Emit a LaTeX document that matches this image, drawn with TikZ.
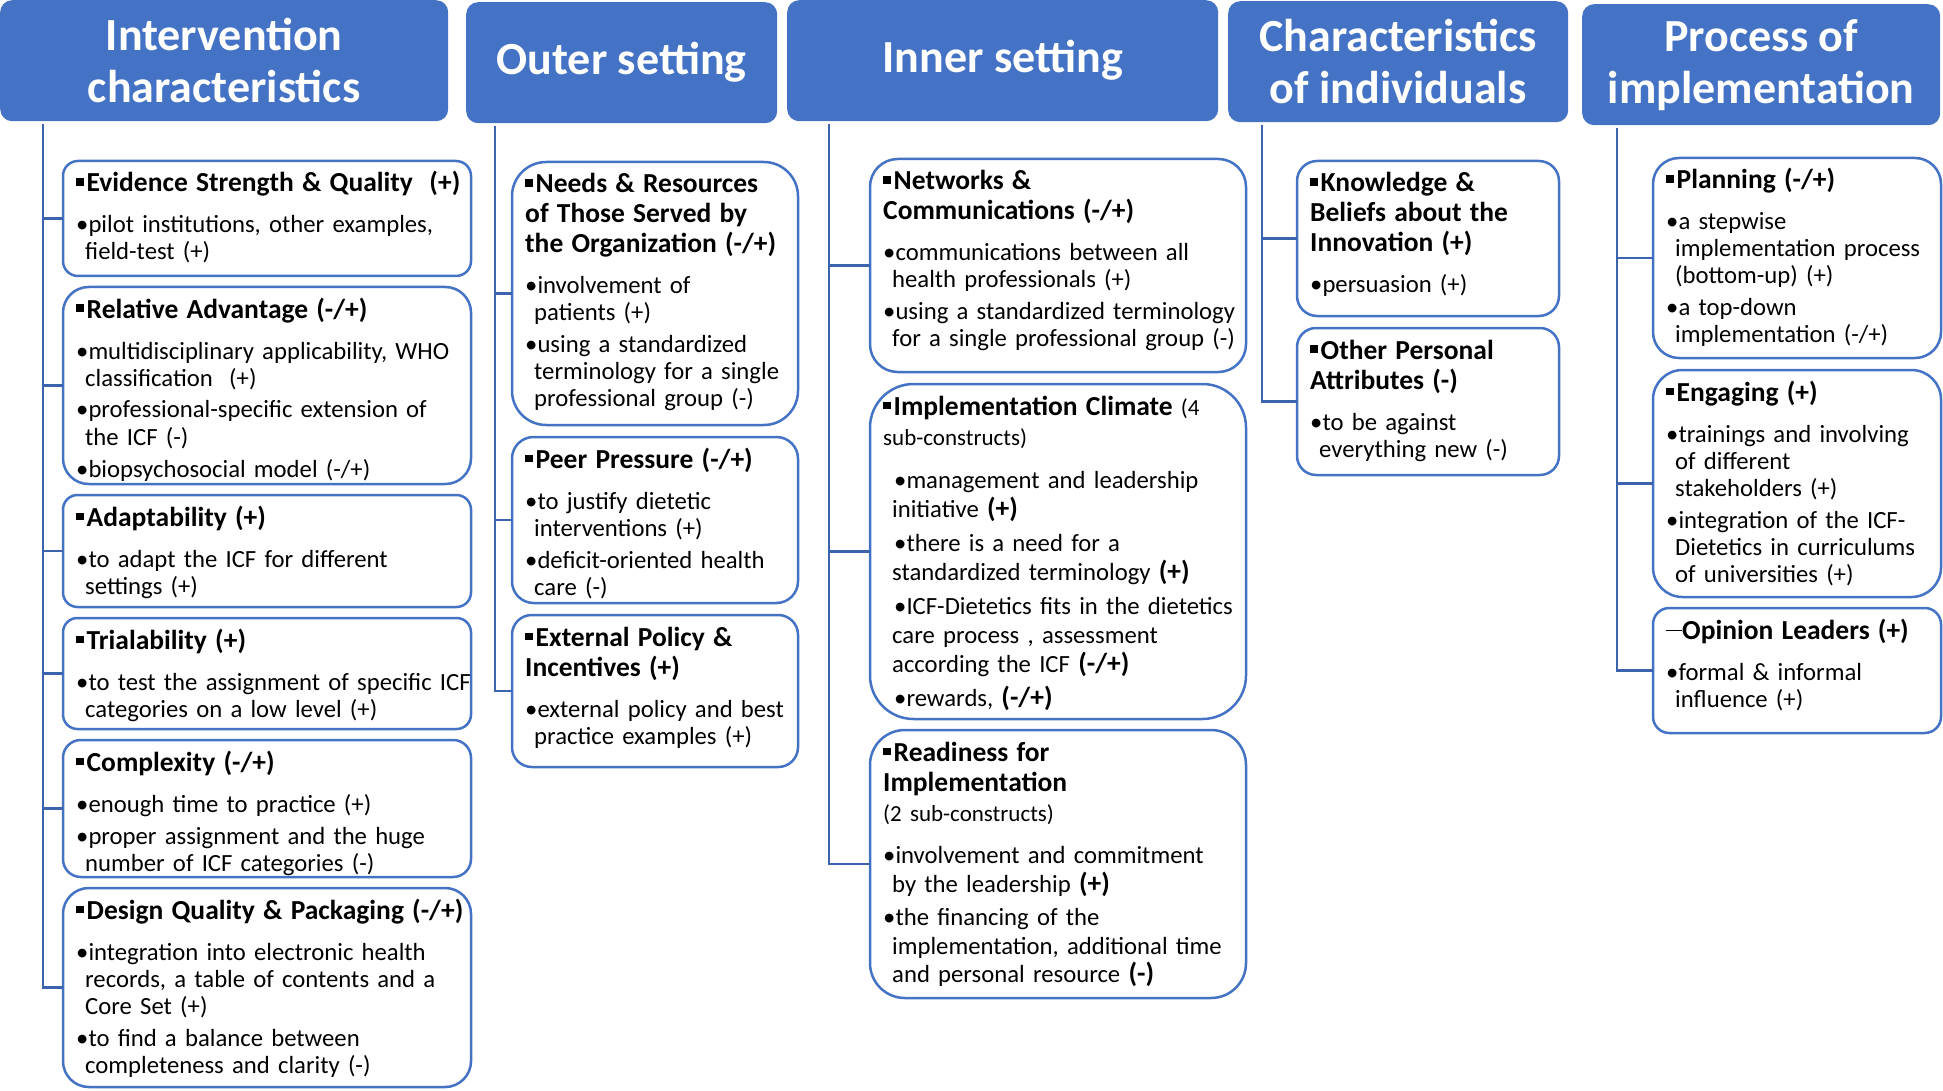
\documentclass[tikz,border=0pt]{standalone}
\usepackage{fontspec}
\setmainfont{Carlito}

\definecolor{cfirblue}{HTML}{4472C4}
\definecolor{cfirline}{HTML}{3C64AE}

\newcommand\headfont{\fontsize{27.5}{30}\selectfont\bfseries}
\newcommand\sqm{\rule[6pt]{7.5pt}{7.5pt}\hspace{3pt}}
\newcommand\dsh{\rule[8pt]{16pt}{1.2pt}}
\newcommand\hd[2][\sqm]{{\headfont#1#2\par}\vspace{9pt}}
\newcommand\bl[2][0pt]{\par\vspace{5pt}\hangindent=9pt\hangafter=1\hspace*{#1}\textbullet#2\par}
\newcommand\bp[1]{{\headfont#1}}
\newcommand\subc[1]{{\mdseries\fontsize{23}{27}\selectfont#1}}

% box with its text: name, x, y, width, height, text
\newcommand\cfirbox[6]{%
  \pgfmathsetmacro\boxr{0.13*min(#4,#5)}
  \node[item, rounded corners=\boxr pt, minimum width=#4, minimum height=#5] (#1) at (#2,#3) {};
  \node[txt] (#1-t) at ([shift={(13,31)}]#1.north west) {#6};
}

\begin{document}
\begin{tikzpicture}[x=1pt,y=-1pt,
    hdr/.style={fill=cfirblue, rounded corners=12pt, anchor=north west, inner sep=0pt,
      text=white, align=center, font=\fontsize{46}{52}\selectfont\bfseries, minimum height=121},
    item/.style={draw=cfirblue, line width=2.5pt, fill=white, anchor=north west, inner sep=0pt, outer sep=0pt},
    txt/.style={anchor=base west, inner sep=0pt, text width=520pt, align=left,
      font=\fontsize{24.7}{27}\selectfont},
    trunk/.style={draw=cfirline, line width=2.5pt}]
  \useasboundingbox (0,0) rectangle (1943,1091);

  % domain headers
  \node[hdr, minimum width=448] (h1) at (0,0) {Intervention\\characteristics};
  \node[hdr, minimum width=311] (h2) at (466,2) {Outer setting};
  \node[hdr, minimum width=431] (h3) at (787,0) {Inner setting};
  \node[hdr, minimum width=340] (h4) at (1228,1) {Characteristics\\of individuals};
  \node[hdr, minimum width=358] (h5) at (1582,4) {Process of\\implementation};

  % intervention characteristics
  \cfirbox{ev}{63}{161}{408}{115}{\hd{Evidence Strength \& Quality\ \ (+)}
    \bl{pilot institutions, other examples,\newline field-test (+)}}
  \cfirbox{ra}{63}{287}{408}{197}{\hd{Relative Advantage (-/+)}
    \bl{multidisciplinary applicability, WHO\newline classification\ \ (+)}
    \bl{professional-specific extension of\newline the ICF (-)}
    \bl{biopsychosocial model (-/+)}}
  \cfirbox{ad}{63}{495}{408}{112}{\hd{Adaptability (+)}
    \bl{to adapt the ICF for different\newline settings (+)}}
  \cfirbox{tr}{63}{618}{408}{111}{\hd{Trialability (+)}
    \bl{to test the assignment of specific ICF\newline categories on a low level (+)}}
  \cfirbox{co}{63}{740}{408}{137}{\hd{Complexity (-/+)}
    \bl{enough time to practice (+)}
    \bl{proper assignment and the huge\newline number of ICF categories (-)}}
  \cfirbox{de}{63}{888}{408}{199}{\hd{Design Quality \& Packaging (-/+)}
    \bl{integration into electronic health\newline records, a table of contents and a\newline Core Set (+)}
    \bl{to find a balance between\newline completeness and clarity (-)}}

  % outer setting
  \cfirbox{ne}{512}{162}{286}{263}{\hd{Needs \& Resources\newline of Those Served by\newline the Organization (-/+)}
    \bl{involvement of\newline patients (+)}
    \bl{using a standardized\newline terminology for a single\newline professional group (-)}}
  \cfirbox{pe}{512}{437}{286}{166}{\hd{Peer Pressure (-/+)}
    \bl{to justify dietetic\newline interventions (+)}
    \bl{deficit-oriented health\newline care (-)}}
  \cfirbox{ex}{512}{615}{286}{152}{\hd{External Policy \&\newline Incentives (+)}
    \bl{external policy and best\newline practice examples (+)}}

  % inner setting
  \cfirbox{nw}{870}{159}{376}{213}{\hd{Networks \&\newline Communications (-/+)}
    \bl{communications between all\newline health professionals (+)}
    \bl{using a standardized terminology\newline for a single professional group (-)}}
  \cfirbox{ic}{870}{384}{376}{335}{\fontsize{24.7}{29}\selectfont
    \hd{Implementation Climate \subc{(4}\newline\subc{sub-constructs)}}
    \bl[11pt]{management and leadership\newline initiative \bp{(+)}}
    \bl[11pt]{there is a need for a\newline standardized terminology \bp{(+)}}
    \bl[11pt]{ICF-Dietetics fits in the dietetics\newline care process , assessment\newline according the ICF \bp{(-/+)}}
    \bl[11pt]{rewards, \bp{(-/+)}}}
  \cfirbox{rd}{870}{730}{376}{268}{\fontsize{24.7}{28.5}\selectfont
    \hd{Readiness for\newline Implementation\newline\subc{(2 sub-constructs)}}
    \bl{involvement and commitment\newline by the leadership \bp{(+)}}
    \bl{the financing of the\newline implementation, additional time\newline and personal resource \bp{(-)}}}

  % characteristics of individuals
  \cfirbox{kn}{1297}{161}{262}{155}{\hd{Knowledge \&\newline Beliefs about the\newline Innovation (+)}
    \bl{persuasion (+)}}
  \cfirbox{ot}{1297}{328}{262}{147}{\hd{Other Personal\newline Attributes (-)}
    \bl{to be against\newline everything new (-)}}

  % process of implementation
  \cfirbox{pl}{1653}{158}{288}{200}{\hd{Planning (-/+)}
    \bl{a stepwise\newline implementation process\newline (bottom-up) (+)}
    \bl{a top-down\newline implementation (-/+)}}
  \cfirbox{en}{1653}{370}{288}{227}{\hd{Engaging (+)}
    \bl{trainings and involving\newline of different\newline stakeholders (+)}
    \bl{integration of the ICF-\newline Dietetics in curriculums\newline of universities (+)}}
  \cfirbox{op}{1653}{608}{288}{125}{\hd[\dsh]{Opinion Leaders (+)}
    \bl{formal \& informal\newline influence (+)}}

  % trunks and branches
  \coordinate (t1) at ([shift={(43,3)}]h1.south west);
  \coordinate (t2) at ([shift={(29,3)}]h2.south west);
  \coordinate (t3) at ([shift={(42,3)}]h3.south west);
  \coordinate (t4) at ([shift={(34,3)}]h4.south west);
  \coordinate (t5) at ([shift={(35,3)}]h5.south west);

  \draw[trunk] (t1) |- (de.west);
  \foreach \b in {ev,ra,ad,tr,co}
    \draw[trunk] (t1 |- \b.west) -- (\b.west);
  \draw[trunk] (t2) |- (ex.west);
  \foreach \b in {ne,pe}
    \draw[trunk] (t2 |- \b.west) -- (\b.west);
  \draw[trunk] (t3) |- (rd.west);
  \foreach \b in {nw,ic}
    \draw[trunk] (t3 |- \b.west) -- (\b.west);
  \draw[trunk] (t4) |- (ot.west);
  \draw[trunk] (t4 |- kn.west) -- (kn.west);
  \draw[trunk] (t5) |- (op.west);
  \foreach \b in {pl,en}
    \draw[trunk] (t5 |- \b.west) -- (\b.west);
\end{tikzpicture}
\end{document}
